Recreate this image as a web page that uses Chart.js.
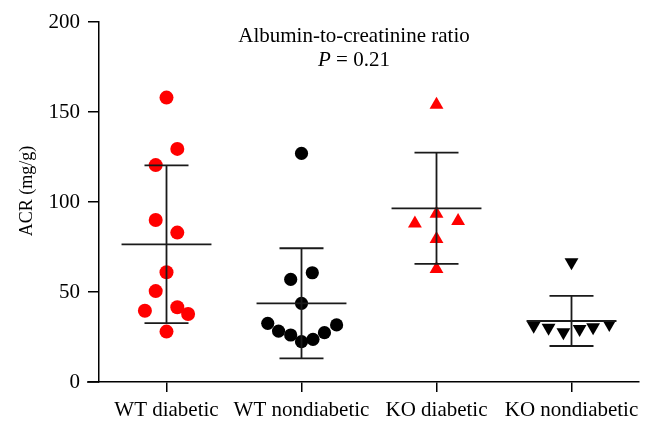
<!DOCTYPE html>
<html>
<head>
<meta charset="utf-8">
<script src="https://cdn.jsdelivr.net/npm/chart.js@4/dist/chart.umd.min.js"></script>
<style>
  html, body { margin: 0; padding: 0; background: #fff; }
  #wrap { width: 664px; height: 431px; }
</style>
</head>
<body>
<div id="wrap"><canvas id="acrChart"></canvas></div>
<script>
// groups along the x axis
const categories = ["WT diabetic", "WT nondiabetic", "KO diabetic", "KO nondiabetic"];

// ACR values (mg/g), with the horizontal scatter of each dot
const wtDiabetic = [158, 129.5, 120.5, 90, 83, 61, 50.5, 39.6, 41.5, 37.8, 28];
const wtDiabeticJitter = [0, 0.08, -0.08, -0.08, 0.08, 0, -0.08, -0.16, 0.08, 0.16, 0];
const wtNondiabetic = [127, 57, 60.7, 43.7, 32.6, 28.3, 26.1, 22.4, 23.7, 27.4, 31.7];
const wtNondiabeticJitter = [0, -0.08, 0.08, 0, -0.25, -0.17, -0.08, 0, 0.085, 0.17, 0.26];
const koDiabetic = [154, 88, 93.5, 89.4, 79.4, 62.8];
const koDiabeticJitter = [0, -0.16, 0, 0.16, 0, 0];
const koNondiabetic = [66.5, 31.3, 30.1, 27.6, 29.4, 30.4, 32.2];
const koNondiabeticJitter = [0, -0.28, -0.17, -0.06, 0.06, 0.16, 0.28];

// mean and SD bars
const means = [76.5, 43.7, 96.5, 33.9];
const sds = [43.8, 30.6, 30.9, 13.9];

const yTicks = [0, 50, 100, 150, 200];

const serif = '"Liberation Serif", "DejaVu Serif", serif';

function points(values, jitter, idx){
    let out = [];
    for(var k = 0; k < values.length; k++){
        out.push({x: idx + jitter[k], y: values[k]});
    }
    return out;
}

// mean line, SD whiskers, title text and the short axis stub
const extras = {
    id: "extras",
    afterDatasetsDraw(chart){
        const ctx = chart.ctx;
        const xs = chart.scales.x, ys = chart.scales.y;
        ctx.save();
        ctx.strokeStyle = "#1a1a1a";
        ctx.lineWidth = 1.8;
        for(var i = 0; i < means.length; i++){
            const cx = xs.getPixelForValue(i);
            const half = xs.getPixelForValue(i + 0.333) - cx;
            const cap = xs.getPixelForValue(i + 0.163) - cx;
            const ym = ys.getPixelForValue(means[i]);
            const yt = ys.getPixelForValue(means[i] + sds[i]);
            const yb = ys.getPixelForValue(means[i] - sds[i]);
            ctx.beginPath();
            ctx.moveTo(cx - half, ym); ctx.lineTo(cx + half, ym);
            ctx.moveTo(cx - cap, yt); ctx.lineTo(cx + cap, yt);
            ctx.moveTo(cx - cap, yb); ctx.lineTo(cx + cap, yb);
            ctx.moveTo(cx, yt); ctx.lineTo(cx, yb);
            ctx.stroke();
        }
        ctx.restore();
    },
    afterDraw(chart){
        const ctx = chart.ctx;
        const area = chart.chartArea;
        ctx.save();
        // x axis runs a little past the y axis
        ctx.strokeStyle = "#000";
        ctx.lineWidth = 1.5;
        ctx.beginPath();
        ctx.moveTo(area.left - 12, area.bottom);
        ctx.lineTo(area.left, area.bottom);
        ctx.stroke();

        ctx.fillStyle = "#000";
        ctx.textBaseline = "alphabetic";
        const cx = 354;
        ctx.font = "21px " + serif;
        ctx.textAlign = "center";
        ctx.fillText("Albumin-to-creatinine ratio", cx, 42);

        // P = 0.21 with italic P
        const italic = "italic 21px " + serif;
        const normal = "21px " + serif;
        ctx.font = italic;
        const wP = ctx.measureText("P").width;
        ctx.font = normal;
        const rest = " = 0.21";
        const wR = ctx.measureText(rest).width;
        let x0 = cx - (wP + wR) / 2;
        ctx.textAlign = "left";
        ctx.font = italic;
        ctx.fillText("P", x0, 66);
        ctx.font = normal;
        ctx.fillText(rest, x0 + wP, 66);

        // y axis title
        ctx.translate(27, 191);
        ctx.rotate(-Math.PI / 2);
        ctx.textAlign = "center";
        ctx.textBaseline = "middle";
        ctx.font = "18px " + serif;
        ctx.fillText("ACR (mg/g)", 0, 0);
        ctx.restore();
    }
};

var chart = new Chart("acrChart", {
    type: "scatter",
    data: {
        datasets: [
            {label: categories[0], data: points(wtDiabetic, wtDiabeticJitter, 0),
             pointStyle: "circle", pointRadius: 7, backgroundColor: "#ff0000", borderWidth: 0},
            {label: categories[1], data: points(wtNondiabetic, wtNondiabeticJitter, 1),
             pointStyle: "circle", pointRadius: 6.6, backgroundColor: "#000000", borderWidth: 0},
            {label: categories[2], data: points(koDiabetic, koDiabeticJitter, 2),
             pointStyle: "triangle", pointRadius: 8, backgroundColor: "#ff0000", borderWidth: 0},
            {label: categories[3], data: points(koNondiabetic, koNondiabeticJitter, 3),
             pointStyle: "triangle", rotation: 180, pointRadius: 8, backgroundColor: "#000000", borderWidth: 0}
        ]
    },
    options: {
        responsive: true,
        maintainAspectRatio: false,
        animation: false,
        clip: false,
        layout: {padding: {left: 0, right: 25, top: 22, bottom: 0}},
        plugins: {
            legend: {display: false},
            title: {display: false},
            tooltip: {enabled: false}
        },
        scales: {
            x: {
                type: "linear",
                min: -0.5,
                max: 3.5,
                afterBuildTicks: (scale) => {
                    scale.ticks = categories.map((c, i) => ({value: i}));
                },
                afterFit: (scale) => { scale.height = 49; },
                ticks: {
                    autoSkip: false,
                    maxRotation: 0,
                    minRotation: 0,
                    padding: 6,
                    color: "#000",
                    font: {family: serif, size: 21},
                    callback: (v) => categories[v]
                },
                grid: {drawOnChartArea: false, drawTicks: true, tickLength: 10, color: "#000", lineWidth: 1.5},
                border: {color: "#000", width: 1.5}
            },
            y: {
                min: 0,
                max: 200,
                afterBuildTicks: (scale) => {
                    scale.ticks = yTicks.map(v => ({value: v}));
                },
                afterFit: (scale) => { scale.width = 99; },
                ticks: {
                    padding: 8,
                    color: "#000",
                    font: {family: serif, size: 21}
                },
                grid: {drawOnChartArea: false, drawTicks: true, tickLength: 11, color: "#000", lineWidth: 1.5},
                border: {color: "#000", width: 1.5}
            }
        }
    },
    plugins: [extras]
});
</script>
</body>
</html>
